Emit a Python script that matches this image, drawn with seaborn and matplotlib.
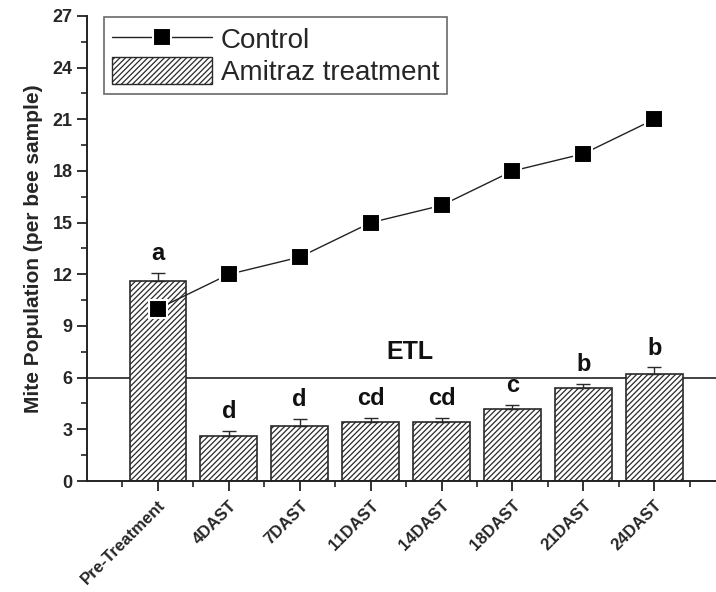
import numpy as np
import pandas as pd
import matplotlib
matplotlib.use("Agg")
import matplotlib.pyplot as plt
import seaborn as sns
from matplotlib.patches import Patch
from matplotlib.lines import Line2D
from matplotlib.ticker import MultipleLocator

# Sampling periods
categories = ["Pre-Treatment", "4DAST", "7DAST", "11DAST", "14DAST", "18DAST", "21DAST", "24DAST"]
# Amitraz-treated colonies: mean mites per bee sample and standard error
amitraz = [11.6, 2.6, 3.2, 3.4, 3.4, 4.2, 5.4, 6.2]
amitraz_se = [0.5, 0.3, 0.4, 0.25, 0.25, 0.2, 0.22, 0.4]
# Significance letters
letters = ["a", "d", "d", "cd", "cd", "c", "b", "b"]
# Untreated control colonies
control = [10, 12, 13, 15, 16, 18, 19, 21]
# Economic threshold level
etl = 6

sns.set_theme(style="ticks")
plt.rcParams["font.family"] = ["Liberation Sans", "DejaVu Sans"]
plt.rcParams["hatch.linewidth"] = 0.9
plt.rcParams["hatch.color"] = "#3a3a3a"

fig = plt.figure(figsize=(7.16, 5.92), dpi=100)
ax = fig.add_axes([0.1215, 0.1875, 0.8785, 0.7855])

df = pd.DataFrame({"period": categories, "mites": amitraz})
sns.barplot(data=df, x="period", y="mites", order=categories, color="white",
            edgecolor="#2a2a2a", linewidth=1.2, hatch="//////", width=0.8,
            errorbar=None, ax=ax, zorder=2)
for p in ax.patches:
    p.set_facecolor("white")

xpos = np.arange(len(categories))
ax.errorbar(xpos, amitraz, yerr=[np.zeros(len(amitraz)), amitraz_se], fmt="none",
            ecolor="#2a2a2a", elinewidth=1.0, capsize=5, capthick=1.0, zorder=3)

for x, v, e, lab in zip(xpos, amitraz, amitraz_se, letters):
    ax.text(x, v + e + 0.45, lab, ha="center", va="bottom", fontsize=17,
            fontweight="bold", color="#111111")

sns.lineplot(x=xpos, y=control, marker="s", markersize=12.5, color="#222222",
             markerfacecolor="black", markeredgecolor="white", markeredgewidth=1.5,
             linewidth=1.0, ax=ax, zorder=4)

ax.axhline(etl, color="#222222", linewidth=1.2, zorder=1)
ax.text(3.56, 7.5, "ETL", ha="center", va="center", fontsize=18,
        fontweight="bold", color="#111111")

ax.set_xlim(-1, 7.87)
ax.set_ylim(0, 27)
ax.yaxis.set_major_locator(MultipleLocator(3))
ax.yaxis.set_minor_locator(MultipleLocator(1.5))
ax.set_xticks(xpos)
ax.set_xticks(np.arange(-0.5, 8.0, 1.0), minor=True)
ax.set_xticklabels(categories, rotation=45, ha="right", rotation_mode="anchor",
                   fontsize=12, fontweight="bold")
for t in ax.get_yticklabels():
    t.set_fontweight("bold")
    t.set_fontsize(13)
ax.tick_params(axis="both", which="major", direction="out", length=7, width=1.3, color="#222222")
ax.tick_params(axis="both", which="minor", direction="out", length=4, width=1.2, color="#222222")
ax.tick_params(axis="x", pad=5)

ax.set_xlabel("")
ax.set_ylabel("Mite Population (per bee sample)", fontsize=15, fontweight="bold", labelpad=7)

sns.despine(ax=ax)
for s in ["left", "bottom"]:
    ax.spines[s].set_linewidth(1.4)
    ax.spines[s].set_color("#222222")

handles = [
    Line2D([0], [0], color="#222222", linewidth=1.0, marker="s", markersize=12.5,
           markerfacecolor="black", markeredgecolor="white", markeredgewidth=1.5),
    Patch(facecolor="white", edgecolor="#2a2a2a", hatch="//////", linewidth=1.0),
]
leg = ax.legend(handles, ["Control", "Amitraz treatment"], loc="upper left",
                bbox_to_anchor=(0.027, 0.998), borderaxespad=0, fontsize=20,
                frameon=True, fancybox=False, edgecolor="#444444",
                handlelength=3.6, handleheight=1.1, borderpad=0.3,
                labelspacing=0.12, handletextpad=0.3)
leg.get_frame().set_linewidth(1.2)

fig.savefig("out.png", dpi=100)
